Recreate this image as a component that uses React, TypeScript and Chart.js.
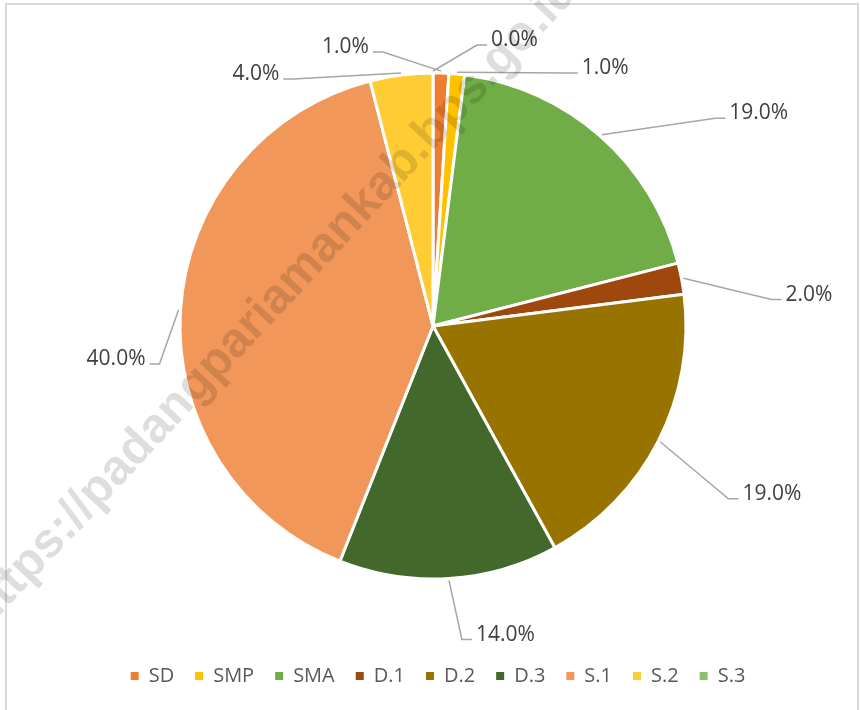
import React, { useEffect, useRef } from 'react';
import { Chart, registerables } from 'chart.js';

Chart.register(...registerables);

const categories = ['SD', 'SMP', 'SMA', 'D.1', 'D.2', 'D.3', 'S.1', 'S.2', 'S.3'];
const shares = [1.0, 1.0, 19.0, 2.0, 19.0, 14.0, 40.0, 4.0, 0.0];
const sliceColors = ['#ED7D31', '#FFC000', '#70AD47', '#9E480E', '#997300', '#43682B', '#F1975A', '#FFCD33', '#8CC168'];
const watermarkText = 'https://padangpariamankab.bps.go.id';

// leader-line elbow offsets (px) from each slice's outer mid-point (layout only)
const labelOffsets: [number, number][] = [
  [-58, -21], [111, -1], [115, -18], [90, 21], [70, 58], [13, 61], [-21, 54], [-108, 4], [44, -28],
];

const FONT = '"Open Sans", "Noto Sans", sans-serif';

const framePlugin = {
  id: 'frame',
  beforeDraw(chart: any) {
    const ctx = chart.ctx;
    ctx.save();
    ctx.fillStyle = '#ffffff';
    ctx.fillRect(0, 0, chart.width, chart.height);
    ctx.strokeStyle = '#d9d9d9';
    ctx.lineWidth = 2;
    ctx.strokeRect(6, 4, 852, 760);
    ctx.restore();
  },
};

const legendShiftPlugin = {
  id: 'legendShift',
  afterLayout(chart: any) {
    if (chart.legend) {
      chart.legend.left += 5;
      chart.legend.right += 5;
    }
  },
};

const labelPlugin = {
  id: 'leaderLabels',
  afterDatasetsDraw(chart: any) {
    const ctx = chart.ctx;
    const meta = chart.getDatasetMeta(0);
    ctx.save();
    ctx.font = `21px ${FONT}`;
    ctx.fillStyle = '#404040';
    ctx.strokeStyle = '#a6a6a6';
    ctx.lineWidth = 1.5;
    ctx.textBaseline = 'alphabetic';
    meta.data.forEach((arc: any, i: number) => {
      const { x, y, startAngle, endAngle, outerRadius } = arc.getProps(
        ['x', 'y', 'startAngle', 'endAngle', 'outerRadius'],
        true
      );
      const mid = (startAngle + endAngle) / 2;
      const ax = x + Math.cos(mid) * outerRadius;
      const ay = y + Math.sin(mid) * outerRadius;
      const [dx, dy] = labelOffsets[i];
      const ex = ax + dx;
      const ey = ay + dy;
      const right = dx >= 0;
      const sx = ex + (right ? 10 : -10);
      ctx.beginPath();
      ctx.moveTo(ax + Math.cos(mid) * 2, ay + Math.sin(mid) * 2);
      ctx.lineTo(ex, ey);
      ctx.lineTo(sx, ey);
      ctx.stroke();
      ctx.textAlign = right ? 'left' : 'right';
      ctx.fillText(shares[i].toFixed(1) + '%', sx + (right ? 4 : -4), ey + 1);
    });
    ctx.restore();
  },
};

const watermarkPlugin = {
  id: 'watermark',
  afterDraw(chart: any) {
    const ctx = chart.ctx;
    ctx.save();
    ctx.translate(-14, 630);
    ctx.rotate((-47 * Math.PI) / 180);
    ctx.font = 'bold 49px "Liberation Sans", Arial, sans-serif';
    ctx.fillStyle = 'rgba(0,0,0,0.13)';
    ctx.textAlign = 'left';
    ctx.textBaseline = 'alphabetic';
    ctx.fillText(watermarkText, 0, 0);
    ctx.restore();
  },
};

export default function App() {
  const ref = useRef<HTMLCanvasElement | null>(null);
  useEffect(() => {
    if (!ref.current) return;
    const chart = new Chart(ref.current, {
      type: 'pie',
      data: {
        labels: categories,
        datasets: [
          {
            data: shares,
            backgroundColor: sliceColors,
            borderColor: '#ffffff',
            borderWidth: 3,
            radius: 253,
          } as any,
        ],
      },
      options: {
        responsive: false,
        animation: false,
        layout: { padding: { top: 7, left: 6, right: 0, bottom: 14 } },
        plugins: {
          tooltip: { enabled: false },
          legend: {
            position: 'bottom',
            labels: {
              boxWidth: 8,
              boxHeight: 8,
              padding: 21,
              color: '#595959',
              font: { family: FONT, size: 20 },
              generateLabels: (c: any) => {
                const items = (Chart as any).overrides.pie.plugins.legend.labels.generateLabels(c);
                return items.map((it: any) => ({ ...it, lineWidth: 0, strokeStyle: 'rgba(0,0,0,0)' }));
              },
            },
          },
        },
      },
      plugins: [framePlugin, legendShiftPlugin, labelPlugin, watermarkPlugin],
    });
    return () => chart.destroy();
  }, []);
  return (
    <div style={{ position: 'absolute', left: 0, top: 0, width: 860, height: 710 }}>
      <canvas ref={ref} width={860} height={710} />
    </div>
  );
}
